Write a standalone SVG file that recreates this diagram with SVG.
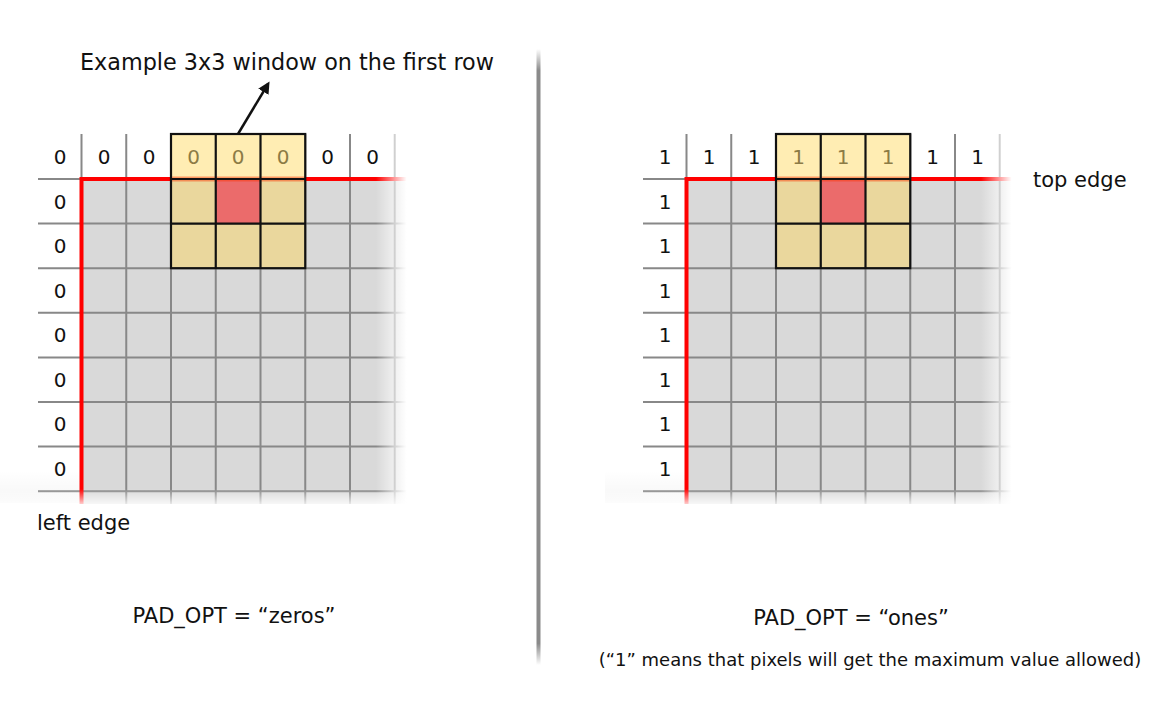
<svg xmlns="http://www.w3.org/2000/svg" xmlns:xlink="http://www.w3.org/1999/xlink" width="1162" height="709" viewBox="0 0 1162 709">
  <style>
    .t { font-family: "DejaVu Sans", "Liberation Sans", sans-serif; fill: #111; }
    .lbl { font-size: 21px; }
    .big { font-size: 22.3px; }
    .note { font-size: 18px; }
    .dig { font-size: 20px; text-anchor: middle; }
    .wdig { fill: #8C7B45; }
    .grid { stroke: #888; stroke-width: 2; fill: none; }
    .win { stroke: #111; stroke-width: 2.2; fill: none; }
  </style>
  <defs>
    <linearGradient id="fadeR" x1="0" y1="0" x2="1" y2="0">
      <stop offset="0" stop-color="#fff" stop-opacity="0"/>
      <stop offset="0.85" stop-color="#fff" stop-opacity="1"/>
      <stop offset="1" stop-color="#fff" stop-opacity="1"/>
    </linearGradient>
    <linearGradient id="fadeB" x1="0" y1="0" x2="0" y2="1">
      <stop offset="0" stop-color="#fff" stop-opacity="0"/>
      <stop offset="1" stop-color="#fff" stop-opacity="0.85"/>
    </linearGradient>
    <linearGradient id="shadeB" x1="0" y1="0" x2="0" y2="1">
      <stop offset="0" stop-color="#000" stop-opacity="0"/>
      <stop offset="1" stop-color="#000" stop-opacity="0.04"/>
    </linearGradient>
    <linearGradient id="divG" x1="0" y1="0" x2="0" y2="1">
      <stop offset="0" stop-color="#8a8a8a" stop-opacity="0"/>
      <stop offset="0.035" stop-color="#8a8a8a" stop-opacity="1"/>
      <stop offset="0.965" stop-color="#8a8a8a" stop-opacity="1"/>
      <stop offset="1" stop-color="#8a8a8a" stop-opacity="0"/>
    </linearGradient>
    <marker id="arrow" markerWidth="12" markerHeight="12" refX="9" refY="6" orient="auto" markerUnits="userSpaceOnUse" viewBox="0 0 12 12">
      <path d="M0,0 L12,6 L0,12 Z" fill="#111"/>
    </marker>
    <g id="gridbase">
      <rect x="0" y="470" width="410" height="33" fill="url(#shadeB)"/>
      <rect x="81.5" y="179" width="329" height="325" fill="#D9D9D9"/>
      <path class="grid" d="M38 179H81.5 M38 223.6H410 M38 268.2H410 M38 312.8H410 M38 357.4H410 M38 402H410 M38 446.6H410 M38 491.2H410"/>
      <path class="grid" d="M81.5 134V179 M126.25 134V504 M171 134V504 M215.75 134V504 M260.5 134V504 M305.25 134V504 M350 134V504 M394.75 134V504"/>
      <path d="M81.5 504V179H410" stroke="#FF0000" stroke-width="4" fill="none"/>
      <rect x="171" y="134" width="134.25" height="45" fill="#FFEDB3"/>
      <rect x="171" y="179" width="134.25" height="89.2" fill="#EAD79D"/>
      <rect x="215.75" y="179" width="44.75" height="44.6" fill="#EB6B6B"/>
      <path d="M171 179H305.25" stroke="#FF3300" stroke-opacity="0.45" stroke-width="5"/>
      <rect class="win" x="171" y="134" width="134.25" height="134.2"/>
      <path class="win" d="M215.75 134V268.2 M260.5 134V268.2 M171 179H305.25 M171 223.6H305.25"/>
      <rect x="376" y="100" width="36" height="410" fill="url(#fadeR)"/>
      <rect x="0" y="489" width="412" height="16" fill="url(#fadeB)"/>
    </g>
  </defs>

  <g id="left-panel">
    <use xlink:href="#gridbase" href="#gridbase"/>
    <g id="left-top-row" class="t dig">
      <text x="60" y="164">0</text>
      <text x="104" y="164">0</text>
      <text x="149" y="164">0</text>
      <text class="wdig" x="193.5" y="164">0</text>
      <text class="wdig" x="238" y="164">0</text>
      <text class="wdig" x="283" y="164">0</text>
      <text x="327.5" y="164">0</text>
      <text x="372.5" y="164">0</text>
    </g>
    <g id="left-col" class="t dig">
      <text x="60" y="208.5">0</text>
      <text x="60" y="253">0</text>
      <text x="60" y="297.5">0</text>
      <text x="60" y="342">0</text>
      <text x="60" y="386.5">0</text>
      <text x="60" y="431">0</text>
      <text x="60" y="475.5">0</text>
    </g>
    <text id="label-example" class="t big" x="287" y="70" text-anchor="middle">Example 3x3 window on the first row</text>
    <text id="label-left-edge" class="t lbl" x="37" y="530">left edge</text>
    <text id="label-zeros" class="t lbl" x="234" y="623" text-anchor="middle">PAD_OPT = “zeros”</text>
  </g>

  <g id="divider">
    <rect x="536.5" y="49" width="4" height="616" fill="url(#divG)"/>
  </g>

  <g id="right-panel">
    <use xlink:href="#gridbase" href="#gridbase" transform="translate(605,0)"/>
    <g id="right-top-row" class="t dig">
      <text x="665" y="164">1</text>
      <text x="709" y="164">1</text>
      <text x="754" y="164">1</text>
      <text class="wdig" x="798.5" y="164">1</text>
      <text class="wdig" x="843" y="164">1</text>
      <text class="wdig" x="888" y="164">1</text>
      <text x="932.5" y="164">1</text>
      <text x="977.5" y="164">1</text>
    </g>
    <g id="right-col" class="t dig">
      <text x="665" y="208.5">1</text>
      <text x="665" y="253">1</text>
      <text x="665" y="297.5">1</text>
      <text x="665" y="342">1</text>
      <text x="665" y="386.5">1</text>
      <text x="665" y="431">1</text>
      <text x="665" y="475.5">1</text>
    </g>
    <text id="label-top-edge" class="t lbl" x="1033" y="187">top edge</text>
    <text id="label-ones" class="t lbl" x="851" y="625" text-anchor="middle">PAD_OPT = “ones”</text>
    <text id="label-note" class="t note" x="870" y="666" text-anchor="middle">(“1” means that pixels will get the maximum value allowed)</text>
  </g>

  <g id="connectors">
    <line x1="238" y1="134" x2="268" y2="84" stroke="#111" stroke-width="2.5" marker-end="url(#arrow)"/>
  </g>
</svg>
